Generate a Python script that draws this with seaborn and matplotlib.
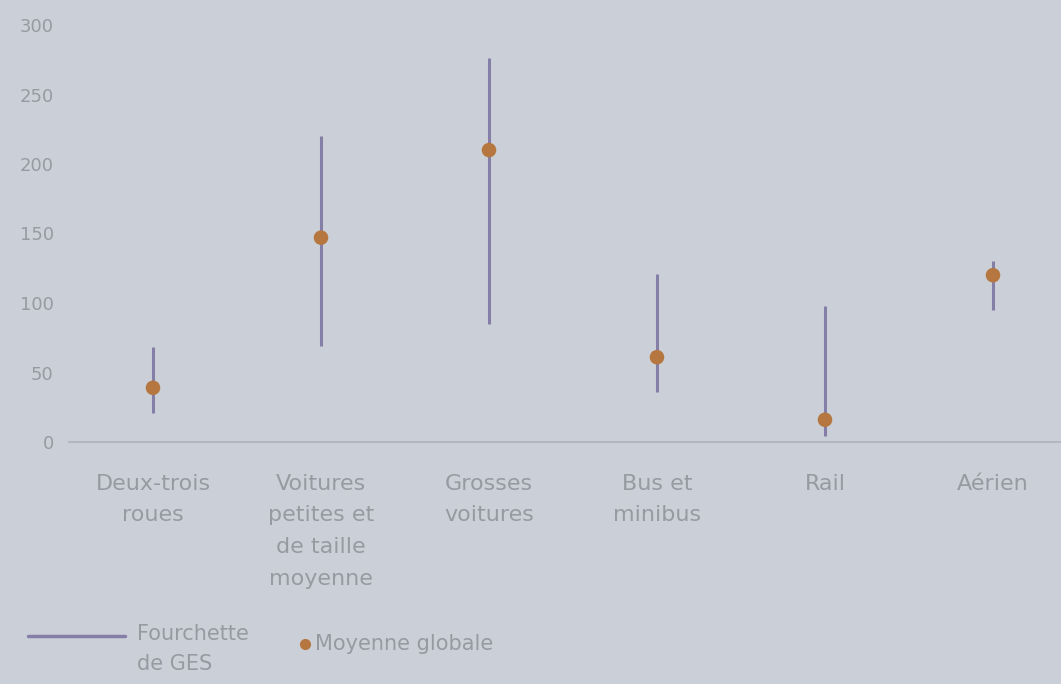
import pandas as pd
import seaborn as sns
import numpy as np
import matplotlib.pyplot as plt
from matplotlib.lines import Line2D

# Data (GES per mode of transport)
categories = ['Deux-trois\nroues', 'Voitures\npetites et\nde taille\nmoyenne',
              'Grosses\nvoitures', 'Bus et\nminibus', 'Rail', 'Aérien']
range_low = [21, 69, 85, 36, 4, 95]
range_high = [68, 220, 276, 121, 98, 130]
mean_global = [39, 147, 210, 61, 16, 120]

df = pd.DataFrame({'mode': categories, 'low': range_low,
                   'high': range_high, 'mean': mean_global})

bg = '#cbd0d8'
line_col = '#857ea6'
dot_col = '#b5773f'
text_col = '#979aa1'

sns.set_theme(style='white')
plt.rcParams['font.family'] = ['DejaVu Sans']

fig = plt.figure(figsize=(10.61, 6.84), dpi=100, facecolor=bg)
# axes run a little past the right edge, as in the cropped original
ax = fig.add_axes([69 / 1061, 1 - 442 / 684, 1008 / 1061, (442 - 25) / 684])
ax.set_facecolor(bg)

# Range lines
ax.vlines(np.arange(len(df)), df['low'], df['high'], color=line_col, linewidth=2.2, zorder=2)

# Mean points
sns.scatterplot(data=df, x='mode', y='mean', color=dot_col, s=110,
                edgecolor='none', zorder=3, ax=ax, legend=False)

ax.set_xlim(-0.5, 5.5)
ax.set_ylim(0, 300)
ax.set_yticks([0, 50, 100, 150, 200, 250, 300])
ax.set_xlabel('')
ax.set_ylabel('')

for s in ['top', 'right', 'left']:
    ax.spines[s].set_visible(False)
ax.spines['bottom'].set_color('#aeb3bb')
ax.spines['bottom'].set_linewidth(1.2)

ax.tick_params(axis='y', length=0, pad=11, labelsize=13, labelcolor=text_col)
ax.tick_params(axis='x', length=0, pad=23, labelsize=16, labelcolor=text_col)
for lab in ax.get_xticklabels():
    lab.set_linespacing(1.72)
    lab.set_verticalalignment('top')

# Legend drawn under the chart
fig.add_artist(Line2D([28 / 1061, 125 / 1061], [1 - 636 / 684, 1 - 636 / 684],
                      color=line_col, linewidth=2.5, transform=fig.transFigure))
fig.text(137 / 1061, 1 - 624 / 684, 'Fourchette\nde GES', color=text_col,
         fontsize=15, va='top', ha='left', linespacing=1.65)
fig.add_artist(Line2D([305 / 1061], [1 - 644 / 684], marker='o', markersize=7,
                      color=dot_col, linestyle='none', transform=fig.transFigure))
fig.text(315 / 1061, 1 - 644 / 684, 'Moyenne globale', color=text_col,
         fontsize=15, va='center', ha='left')

fig.savefig('out.png', dpi=100, facecolor=bg)
